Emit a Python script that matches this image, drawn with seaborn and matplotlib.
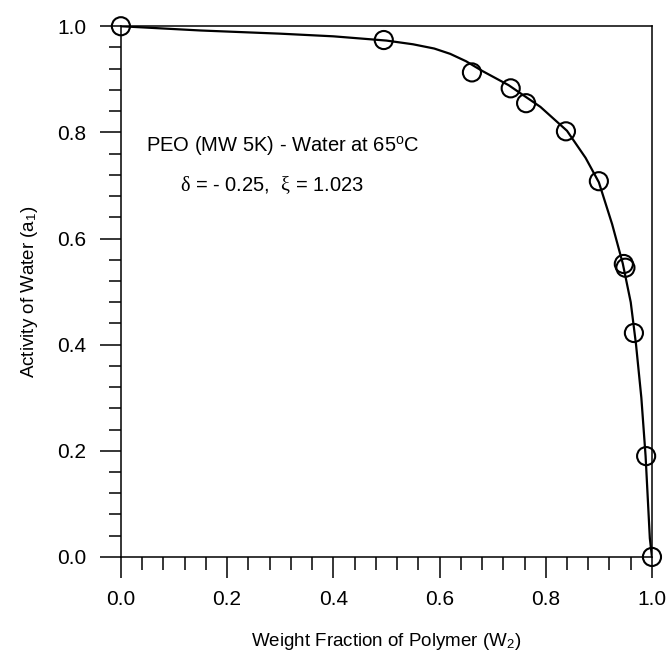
import matplotlib
matplotlib.use("Agg")
import matplotlib.pyplot as plt
from matplotlib.ticker import MultipleLocator
import seaborn as sns
import pandas as pd

# Measured points (weight fraction of polymer vs water activity)
w2_exp = [0.0, 0.495, 0.661, 0.734, 0.763, 0.838, 0.900, 0.947, 0.950, 0.966, 0.989, 1.0]
a1_exp = [1.0, 0.974, 0.913, 0.883, 0.855, 0.802, 0.708, 0.552, 0.545, 0.422, 0.190, 0.0]

# Model curve
w2_fit = [0.0, 0.15, 0.30, 0.40, 0.50, 0.55, 0.59, 0.62, 0.65, 0.68, 0.73, 0.79, 0.84,
          0.875, 0.90, 0.925, 0.945, 0.96, 0.97, 0.98, 0.988, 0.996, 1.0]
a1_fit = [1.0, 0.992, 0.986, 0.981, 0.973, 0.966, 0.958, 0.948, 0.934, 0.916, 0.889, 0.848, 0.803,
          0.752, 0.706, 0.627, 0.553, 0.480, 0.400, 0.300, 0.190, 0.035, 0.0]

exp_df = pd.DataFrame({"w2": w2_exp, "a1": a1_exp})
fit_df = pd.DataFrame({"w2": w2_fit, "a1": a1_fit})

sns.set_theme(style="ticks")
plt.rcParams["font.family"] = ["Liberation Sans", "DejaVu Sans"]
plt.rcParams["mathtext.fontset"] = "custom"
plt.rcParams["mathtext.rm"] = "Liberation Sans"
plt.rcParams["mathtext.it"] = "Liberation Serif"  # greek letters come out upright serif
for key in ["text.color", "axes.labelcolor", "xtick.color", "ytick.color", "axes.edgecolor"]:
    plt.rcParams[key] = "black"

fig = plt.figure(figsize=(6.68, 6.56), dpi=100)
ax = fig.add_axes([0.181, 0.151, 0.795, 0.809])

sns.lineplot(data=fit_df, x="w2", y="a1", sort=False, color="black", linewidth=1.6, ax=ax)
sns.scatterplot(data=exp_df, x="w2", y="a1", s=170, facecolors="none", edgecolor="black",
                linewidth=1.5, ax=ax, clip_on=False, zorder=5)

ax.set_xlim(0, 1)
ax.set_ylim(0, 1)
ax.xaxis.set_major_locator(MultipleLocator(0.2))
ax.xaxis.set_minor_locator(MultipleLocator(0.04))
ax.yaxis.set_major_locator(MultipleLocator(0.2))
ax.yaxis.set_minor_locator(MultipleLocator(0.04))
ax.xaxis.set_major_formatter(lambda v, p: f"{v:.1f}")
ax.yaxis.set_major_formatter(lambda v, p: f"{v:.1f}")

ax.tick_params(which="major", direction="out", length=15, width=1.1, labelsize=15,
               color="black", labelcolor="black")
ax.tick_params(axis="x", which="major", pad=9)
ax.tick_params(axis="y", which="major", pad=10)
ax.tick_params(which="minor", direction="out", length=9, width=1.1, color="black")
for s in ax.spines.values():
    s.set_linewidth(1.1)
    s.set_color("black")
    s.set_visible(True)

ax.set_xlabel(r"Weight Fraction of Polymer (W$_\mathregular{2}$)", fontsize=13.5, labelpad=16)
ax.set_ylabel(r"Activity of Water (a$_\mathregular{1}$)", fontsize=13.5, labelpad=12)

ax.text(0.047, 0.776, r"PEO (MW 5K) - Water at 65$^\mathregular{o}$C", fontsize=14.5, va="center", ha="left")
ax.text(0.111, 0.700, r"$\delta$ = - 0.25,  $\xi$ = 1.023", fontsize=14.5, va="center", ha="left")

fig.savefig("out.png", dpi=100)
